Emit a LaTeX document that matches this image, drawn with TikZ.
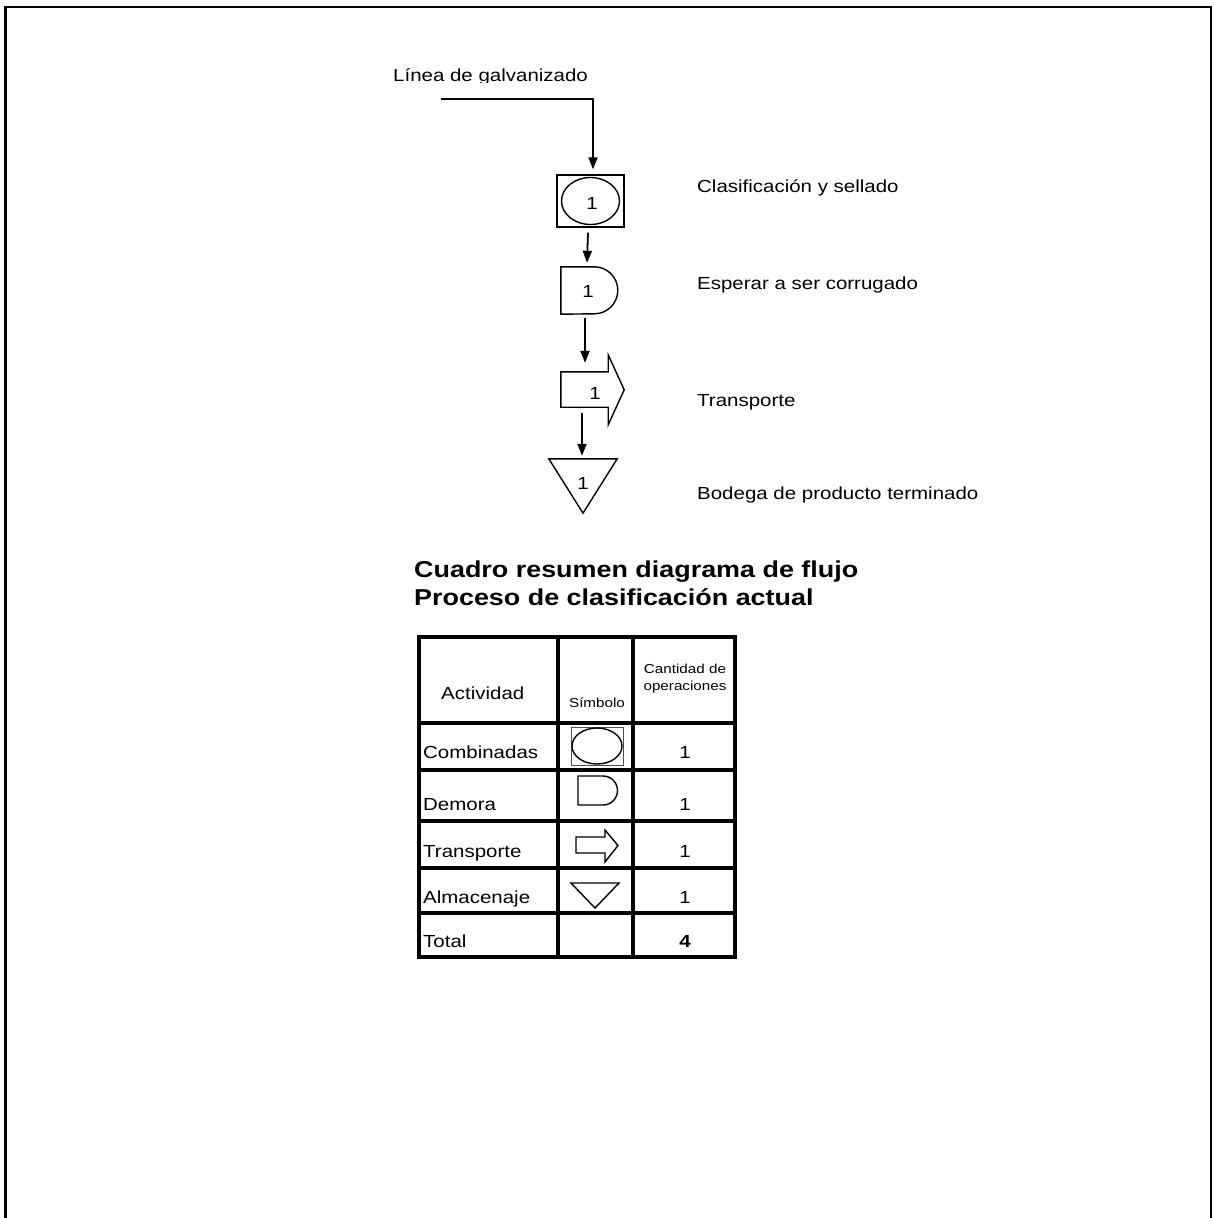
\documentclass[tikz,border=0pt]{standalone}
\usepackage{fontspec}
\setmainfont[FakeStretch=1.17]{Liberation Sans}
\usetikzlibrary{arrows.meta,positioning}

\tikzset{
  flujo/.style={-{Triangle[length=12pt,width=9pt]}, line width=1.8pt},
  simbolo/.style={line width=1.4pt},
  rejilla/.style={line width=4.5pt},
  texto/.style={anchor=base west, inner sep=0pt, font=\fontsize{17.5}{21}\selectfont},
  cifra/.style={anchor=base, inner sep=0pt, font=\fontsize{17.5}{21}\selectfont},
  titulo/.style={anchor=base west, inner sep=0pt, font=\fontsize{23}{28}\selectfont\bfseries},
  chico/.style={anchor=base, inner sep=0pt, align=center, font=\fontsize{13}{17}\selectfont}
}

\begin{document}
\begin{tikzpicture}[x=1pt,y=-1pt]
\useasboundingbox (0,0) rectangle (1215,1218);
\draw[line width=2.5pt] (5.5,1225) -- (5.5,7) -- (1211,7) -- (1211,1225);

% entrada
\begin{scope}
  \clip (380,50) rectangle (700,82);
  \node (lin) [texto] at (393,81) {Línea de galvanizado};
\end{scope}
\coordinate (ent) at (441,99);

% simbolos del flujo
\node (sel) [draw, simbolo, minimum width=67pt, minimum height=52pt, inner sep=0pt] at (590.5,201) {};
\draw[simbolo] (sel.center) ellipse [x radius=29pt, y radius=23.5pt];
\node (n1) [cifra] at (592,209) {1};

\node (esp) [minimum width=57pt, minimum height=47pt, inner sep=0pt] at (589.5,290.5) {};
\draw[simbolo] (esp.north west) -- ++(33.5,0) arc[start angle=90, end angle=-90, radius=23.5pt]
      -- (esp.south west) -- cycle;
\node (n2) [cifra] at (588,297) {1};

\node (tra) [minimum width=47pt, minimum height=35pt, inner sep=0pt] at (584.5,389.5) {};
\draw[simbolo] (tra.north west) -- (tra.north east) -- ++(0,-17) -- ++(16,35) -- ++(-16,35)
      -- (tra.south east) -- (tra.south west) -- cycle;
\node (n3) [cifra] at (595,399) {1};

\node (alm) [minimum width=68pt, minimum height=54pt, inner sep=0pt] at (583,486) {};
\draw[simbolo] (alm.north west) -- (alm.north east) -- (alm.south) -- cycle;
\node (n4) [cifra] at (583,489) {1};

\draw[flujo] (ent) -| ([xshift=2.5pt,yshift=5pt]sel.north);
\draw[flujo] ([xshift=-2.5pt,yshift=-5pt]sel.south) -- ([xshift=-2.5pt,yshift=4pt]esp.north);
\draw[flujo] ([xshift=-4.5pt,yshift=-4pt]esp.south) -- ([xshift=0.5pt,yshift=9pt]tra.north);
\draw[flujo] ([xshift=-2.5pt,yshift=-6pt]tra.south) -- ([xshift=-1pt,yshift=3pt]alm.north);

\node (l1) [texto] at (697,192) {Clasificación y sellado};
\node (l2) [texto] at (697,289) {Esperar a ser corrugado};
\node (l3) [texto] at (697,406) {Transporte};
\node (l4) [texto] at (697,499) {Bodega de producto terminado};

% cuadro resumen
\node (tit1) [titulo] at (414,577) {Cuadro resumen diagrama de flujo};
\node (tit2) [titulo] at (414,605) {Proceso de clasificación actual};

\draw[rejilla] (419,637) rectangle (735,957);
\foreach \y in {723,770,821,868,913}
  \draw[rejilla] (419,\y) -- (735,\y);
\foreach \x in {558,633}
  \draw[rejilla] (\x,637) -- (\x,957);

\node (hAct) [texto] at (441,699) {Actividad};
\node (hSim) [chico] at (597,707) {Símbolo};
\node (hCan) [chico] at (685,690) {Cantidad de\\operaciones};

\foreach \nom/\y [count=\i] in {Combinadas/758, Demora/810, Transporte/857, Almacenaje/903} {
  \node (act\i) [texto] at (423,\y) {\nom};
  \node (can\i) [cifra] at (685,\y) {1};
}
\node (actT) [texto] at (423,947) {Total};
\node (canT) [cifra] at (685,947) {\bfseries 4};

% simbolos de la tabla
\draw[line width=1pt, black!70] (571,727) rectangle (623,765);
\draw[simbolo] (597,746) ellipse [x radius=25pt, y radius=18pt];
\draw[simbolo] (578,776) -- (603,776) arc[start angle=90, end angle=-90, radius=14.5pt] -- (578,805) -- cycle;
\draw[simbolo] (576,837) -- (605,837) -- (605,830) -- (618,845.5) -- (605,862) -- (605,853) -- (576,853) -- cycle;
\draw[simbolo] (571,883) -- (619,883) -- (595,908) -- cycle;
\end{tikzpicture}
\end{document}
